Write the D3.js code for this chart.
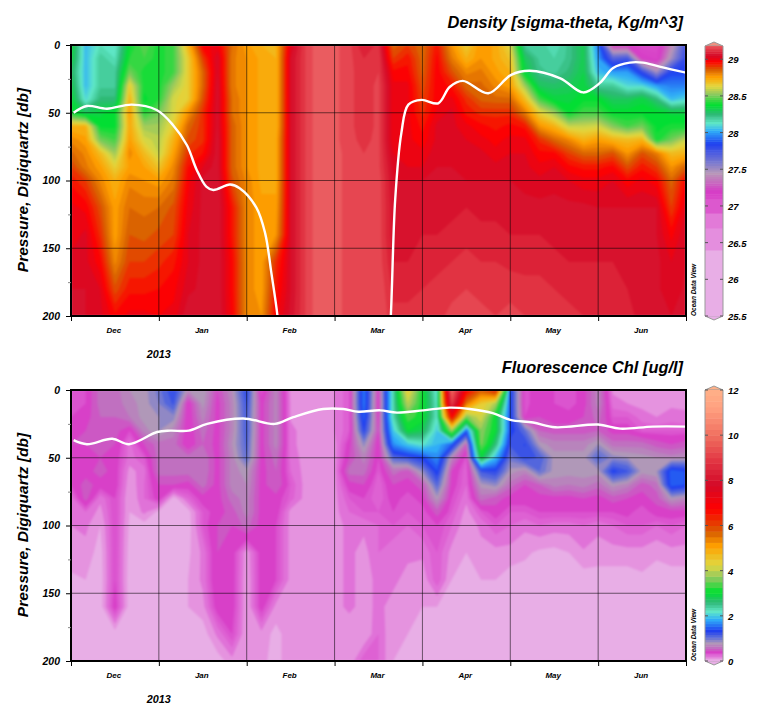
<!doctype html>
<html>
<head>
<meta charset="utf-8">
<script src="https://d3js.org/d3.v7.min.js"></script>
<style>
  body { margin: 0; background: #fff; }
  text { font-family: "Liberation Sans", Arial, sans-serif; font-weight: bold; font-style: italic; fill: #000; }
</style>
</head>
<body>
<svg id="chart" width="762" height="704"></svg>
<script>
// section data. one row per cast, one value per pressure level
var monthNames = ["Dec", "Jan", "Feb", "Mar", "Apr", "May", "Jun"];
var pressures = [0, 10, 20, 30, 40, 50, 60, 70, 80, 90, 100, 120, 140, 160, 180, 200];
var pressureTicks = [0, 50, 100, 150, 200];
var pressureMinor = [25, 75, 125, 175];

var density = [
  [28.38,28.36,28.30,28.34,28.38,28.40,28.72,28.80,28.85,28.90,28.95,29.00,29.00,29.03,29.05,29.05],
  [28.05,28.05,28.05,28.05,28.10,28.30,28.72,28.76,28.80,28.82,28.90,28.98,29.03,29.03,29.05,29.05],
  [28.15,28.20,28.20,28.20,28.25,28.35,28.38,28.50,28.70,28.76,28.80,28.88,28.92,28.97,29.02,29.03],
  [28.12,28.15,28.20,28.20,28.25,28.38,28.38,28.45,28.55,28.65,28.72,28.76,28.76,28.80,28.88,28.97],
  [28.38,28.42,28.50,28.66,28.72,28.76,28.74,28.76,28.80,28.76,28.80,28.84,28.87,28.90,28.95,29.00],
  [28.48,28.45,28.40,28.40,28.38,28.42,28.55,28.62,28.70,28.75,28.78,28.83,28.86,28.90,28.95,29.00],
  [28.40,28.40,28.40,28.40,28.42,28.50,28.55,28.58,28.60,28.68,28.76,28.84,28.88,28.92,28.96,28.99],
  [28.45,28.45,28.45,28.55,28.62,28.62,28.66,28.72,28.76,28.80,28.82,28.88,28.90,28.95,28.98,29.00],
  [28.72,28.66,28.66,28.66,28.66,28.78,28.85,28.88,28.92,28.96,28.98,29.00,29.02,29.02,29.04,29.08],
  [28.98,28.90,28.85,28.85,28.88,28.92,28.92,28.92,28.96,29.02,29.06,29.06,29.06,29.06,29.06,29.08],
  [29.00,29.05,29.05,29.06,29.06,29.06,29.06,29.07,29.07,29.07,29.08,29.08,29.08,29.08,29.08,29.08],
  [28.84,28.82,28.82,28.82,28.84,28.84,28.86,28.86,28.86,28.86,28.88,28.95,28.95,28.97,28.97,28.98],
  [28.76,28.78,28.78,28.78,28.78,28.78,28.78,28.78,28.78,28.78,28.80,28.80,28.80,28.80,28.80,28.80],
  [28.72,28.74,28.74,28.74,28.74,28.74,28.74,28.74,28.74,28.74,28.74,28.76,28.76,28.76,28.76,28.78],
  [28.72,28.72,28.72,28.72,28.72,28.72,28.72,28.74,28.74,28.74,28.74,28.76,28.78,28.92,28.95,28.98],
  [29.02,29.05,29.05,29.05,29.05,29.05,29.05,29.05,29.05,29.05,29.05,29.05,29.05,29.05,29.05,29.06],
  [29.14,29.14,29.14,29.14,29.14,29.14,29.14,29.14,29.14,29.14,29.14,29.14,29.14,29.14,29.14,29.14],
  [29.20,29.20,29.20,29.20,29.20,29.20,29.20,29.20,29.20,29.20,29.20,29.20,29.20,29.20,29.20,29.20],
  [29.18,29.18,29.18,29.18,29.18,29.18,29.18,29.18,29.18,29.18,29.18,29.18,29.18,29.18,29.18,29.18],
  [29.15,29.15,29.15,29.15,29.15,29.15,29.15,29.15,29.16,29.16,29.16,29.16,29.16,29.16,29.16,29.16],
  [29.08,29.11,29.12,29.12,29.12,29.12,29.12,29.13,29.14,29.15,29.16,29.16,29.16,29.16,29.16,29.16],
  [29.12,29.14,29.14,29.15,29.15,29.15,29.15,29.15,29.15,29.15,29.16,29.16,29.16,29.16,29.17,29.17],
  [28.85,28.90,28.97,29.00,29.00,29.00,29.00,29.00,29.02,29.04,29.05,29.06,29.06,29.08,29.10,29.12],
  [28.90,28.95,28.97,29.00,29.00,29.00,29.00,29.00,29.00,29.02,29.05,29.06,29.07,29.08,29.10,29.12],
  [28.84,28.85,28.86,28.88,28.90,28.92,28.95,28.97,29.00,29.02,29.05,29.07,29.08,29.10,29.11,29.12],
  [28.95,28.97,28.98,28.98,28.98,29.00,29.03,29.03,29.04,29.05,29.05,29.07,29.08,29.10,29.12,29.13],
  [28.78,28.82,28.88,28.95,29.00,29.03,29.03,29.04,29.04,29.05,29.05,29.07,29.09,29.11,29.13,29.15],
  [28.66,28.72,28.80,28.85,28.92,28.95,29.00,29.02,29.03,29.04,29.05,29.08,29.10,29.12,29.14,29.15],
  [28.78,28.78,28.82,28.85,28.86,28.92,28.97,29.00,29.03,29.04,29.05,29.07,29.09,29.11,29.13,29.15],
  [28.74,28.74,28.76,28.80,28.85,28.92,28.95,28.98,29.00,29.03,29.05,29.07,29.09,29.11,29.13,29.14],
  [28.62,28.68,28.72,28.76,28.85,28.92,28.97,29.00,29.02,29.03,29.05,29.07,29.08,29.10,29.13,29.15],
  [28.20,28.30,28.35,28.55,28.70,28.82,28.95,29.00,29.02,29.03,29.04,29.06,29.08,29.10,29.12,29.14],
  [28.20,28.20,28.22,28.30,28.45,28.65,28.78,28.92,28.97,29.00,29.03,29.06,29.08,29.10,29.12,29.13],
  [28.15,28.18,28.20,28.28,28.35,28.55,28.72,28.85,28.97,29.02,29.04,29.06,29.07,29.09,29.11,29.12],
  [28.22,28.22,28.25,28.30,28.35,28.38,28.60,28.80,28.90,28.97,29.02,29.06,29.07,29.08,29.10,29.12],
  [28.32,28.32,28.33,28.35,28.38,28.45,28.60,28.72,28.85,28.95,29.00,29.06,29.07,29.08,29.10,29.11],
  [27.95,28.00,28.05,28.20,28.38,28.45,28.62,28.76,28.85,28.95,29.00,29.05,29.06,29.08,29.09,29.10],
  [27.20,27.70,28.00,28.20,28.30,28.38,28.52,28.72,28.88,28.97,29.02,29.05,29.06,29.08,29.09,29.10],
  [27.20,27.75,28.00,28.10,28.30,28.38,28.45,28.70,28.78,28.88,28.97,29.05,29.06,29.07,29.08,29.09],
  [27.10,27.20,27.80,28.10,28.35,28.38,28.50,28.72,28.88,28.95,29.00,29.05,29.05,29.06,29.07,29.07],
  [27.10,27.15,27.50,28.00,28.25,28.38,28.38,28.40,28.82,28.90,28.97,29.05,29.05,29.06,29.06,29.07],
  [27.40,27.50,27.85,27.95,28.05,28.35,28.40,28.50,28.70,28.78,28.85,28.90,28.98,29.02,29.02,29.05],
  [27.75,27.80,27.85,27.95,28.10,28.35,28.40,28.60,28.72,28.86,28.97,29.02,29.05,29.05,29.06,29.08]
];

var chl = [
  [.30,.30,.35,.40,.45,.40,.40,.35,.20,.20,.18,.15,.08,.05,.05,.05],
  [.35,.35,.40,.45,.45,.40,.40,.50,.50,.25,.20,.15,.10,.05,.05,.05],
  [.60,.60,.55,.50,.50,.45,.50,.40,.20,.15,.10,.06,.05,.05,.05,.05],
  [.60,.60,.55,.50,.45,.40,.40,.40,.35,.35,.35,.35,.35,.40,.05,.05],
  [.75,.70,.65,.35,.22,.22,.15,.12,.10,.10,.08,.06,.05,.05,.05,.05],
  [.80,.80,.80,.70,.45,.30,.22,.25,.25,.20,.06,.05,.05,.05,.05,.05],
  [1.0,.95,.85,.85,.60,.60,.60,.45,.40,.07,.05,.05,.05,.05,.05,.05],
  [1.3,1.2,.90,.70,.60,.60,.60,.45,.05,.05,.05,.05,.05,.05,.05,.05],
  [.75,.35,.35,.35,.35,.60,.60,.40,.25,.06,.05,.08,.10,.10,.05,.05],
  [.85,.80,.70,.60,.55,.65,.65,.60,.40,.30,.30,.20,.20,.15,.05,.05],
  [.45,.40,.40,.40,.40,.40,.40,.40,.40,.40,.45,.45,.45,.40,.20,.05],
  [.75,.70,.70,.70,.75,.70,.70,.70,.60,.50,.45,.40,.40,.40,.35,.15],
  [1.3,1.2,1.15,1.15,1.1,1.05,.80,.75,.70,.70,.60,.12,.10,.10,.10,.15],
  [.30,.40,.40,.40,.40,.40,.40,.40,.40,.40,.40,.40,.40,.40,.15,.12],
  [.70,.70,.70,.70,.70,.60,.55,.55,.40,.40,.35,.35,.35,.15,.07,.07],
  [.15,.17,.17,.20,.20,.22,.25,.30,.28,.15,.15,.15,.15,.15,.15,.15],
  [.15,.15,.15,.15,.15,.15,.15,.15,.15,.15,.15,.15,.15,.15,.15,.15],
  [.17,.15,.15,.15,.15,.15,.15,.15,.15,.15,.15,.15,.15,.15,.15,.15],
  [.18,.18,.18,.18,.15,.15,.15,.15,.15,.15,.15,.15,.15,.15,.15,.15],
  [.30,.30,.30,.30,.40,.45,.60,.40,.30,.25,.20,.20,.20,.20,.12,.12],
  [1.6,1.6,1.5,1.3,.90,.70,.60,.45,.35,.30,.20,.15,.15,.15,.10,.30],
  [.40,.35,.40,.45,.35,.35,.30,.25,.25,.30,.25,.25,.20,.20,.25,.25],
  [2.3,2.3,2.3,2.0,1.7,1.1,.60,.45,.40,.35,.30,.20,.20,.15,.10,.10],
  [4.5,4.0,3.4,3.0,2.0,1.2,.50,.40,.30,.30,.25,.20,.15,.15,.10,.07],
  [3.1,3.1,3.1,2.8,2.2,1.35,.90,.50,.40,.30,.30,.20,.12,.10,.05,.05],
  [2.1,2.2,2.2,2.0,1.9,1.7,1.4,1.1,.80,.50,.35,.30,.30,.10,.05,.05],
  [10,9.0,6.8,3.8,1.5,.70,.45,.40,.35,.30,.25,.15,.10,.08,.05,.05],
  [6.8,5.5,3.6,1.5,.55,.30,.25,.25,.20,.15,.12,.10,.08,.05,.05,.05],
  [5.8,4.5,4.2,3.7,3.6,2.9,1.2,.80,.60,.30,.20,.15,.10,.05,.05,.05],
  [6.5,3.9,3.0,3.0,2.6,1.9,1.3,.90,.50,.40,.30,.15,.10,.05,.05,.05],
  [1.4,1.4,1.4,1.4,1.2,1.0,.80,.60,.40,.30,.25,.15,.05,.05,.05,.05],
  [.30,.30,.35,1.05,1.3,1.25,.70,.45,.40,.30,.20,.12,.05,.05,.05,.05],
  [.45,.45,.45,.55,.80,1.15,1.05,.55,.40,.35,.25,.08,.05,.05,.05,.05],
  [.35,.35,.40,.50,.70,.80,.80,.70,.40,.35,.22,.07,.05,.05,.05,.05],
  [.30,.30,.40,.50,.70,.80,.80,.65,.40,.35,.22,.10,.05,.05,.05,.05],
  [.40,.40,.45,.50,.70,.80,.80,.70,.45,.35,.25,.17,.05,.05,.05,.05],
  [.70,.70,.60,.55,.85,1.1,.80,.60,.40,.35,.20,.15,.05,.05,.05,.05],
  [.16,.22,.30,.40,.60,.90,1.35,.80,.50,.35,.25,.15,.05,.05,.05,.05],
  [.15,.18,.30,.40,.60,.85,1.2,.70,.45,.38,.30,.15,.05,.05,.05,.05],
  [.15,.15,.22,.30,.60,.80,.80,.50,.40,.30,.30,.15,.08,.05,.05,.05],
  [.15,.15,.18,.30,.50,.75,.85,.60,.50,.40,.25,.12,.05,.05,.05,.05],
  [.16,.16,.22,.30,.45,.70,1.5,1.5,.80,.40,.30,.15,.05,.05,.05,.05],
  [.16,.16,.20,.30,.50,.75,1.4,1.4,.70,.40,.25,.15,.05,.05,.05,.05]
];

// white mixed layer lines, time in months from the left edge. 240 = off the bottom
var mldDensityTime = [.03,.18,.41,.69,.975,1.16,1.32,1.43,1.54,1.62,1.81,1.92,2.11,2.21,2.28,2.35,2.4,3.6,3.64,3.69,3.76,3.84,3.99,4.18,4.31,4.46,4.75,5.01,5.22,5.57,5.83,6.02,6.17,6.36,6.51,6.7,7];
var mldDensityDepth = [50,45,47,44,48,59,74,92,104.5,107,103,105.7,120,139,168,200,240,240,200,114,65,44,40.5,43,31,26.5,35.6,22,19,24.6,35,28,17,13,13,16,20.4];
var mldChlTime = [.03,.18,.47,.66,.98,1.13,1.34,1.55,1.96,2.32,2.53,2.87,3.1,3.27,3.52,3.71,4.01,4.31,4.54,4.8,5.0,5.26,5.51,6.0,6.25,6.62,7];
var mldChlDepth = [37,40,36,40,31,30,30,25,21,25,20,14,14,16,15,16.7,15,13,14,17,22,24,27.5,25.5,28.5,27,27];

// colour bars
var densityStops = [25.5,26.4,26.5,26.7,26.9,27.2,27.45,27.6,27.85,28.03,28.13,28.25,28.38,28.53,28.63,28.76,28.86,28.97,29.05,29.12,29.17,29.25];
var densityColors = ["#e8aee6","#e8aee6","#e48ede","#e48ede","#df66d2","#d63cc6","#b898b8","#7878d0","#2040f0","#30b0f8","#60e8c8","#30b878","#00e030","#90c860","#e0d840","#ffa000","#d86000","#ff0000","#d40a28","#e03040","#e85058","#f09080"];
var chlStops = [0,.08,.15,.22,.4,.6,.8,1.05,1.35,1.85,2.2,2.6,3.05,3.7,4.25,5.1,5.7,6.75,7.8,8.75,10,11.2,12];
var chlColors = ["#e8aee6","#e8aee6","#e48ede","#e070d8","#d840c8","#c070c0","#b098b8","#6070d8","#2040f0","#30b0f8","#60e8c8","#30b878","#00e030","#90c860","#e0d840","#ffa000","#d86000","#ff0000","#d40a28","#e03040","#f07060","#ffa080","#ffb088"];
var densityLevels = [25.5,26.4,26.7,26.9].concat(d3.range(27.1,29.3,0.03));
var chlLevels = [0,.1,.18,.25,.3,.35,.45,.55,.65,.75,.85,.95].concat(d3.range(1.05,3,0.12)).concat(d3.range(3,12,0.25));
var densityTicks = [25.5,26,26.5,27,27.5,28,28.5,29];
var chlTicks = [0,2,4,6,8,10,12];

var svg = d3.select("#chart");
var left = 71, right = 686, plotH = 271;
var x = d3.scaleLinear().domain([0, monthNames.length]).range([left, right]);

function drawPanel(top, values, levels, stops, colors, lineTime, lineDepth, title, id) {
  var y = d3.scaleLinear().domain([0, 200]).range([top, top + plotH]);
  var color = d3.scaleLinear().domain(stops).range(colors).clamp(true);
  var g = svg.append("g");

  svg.append("clipPath").attr("id", id).append("rect")
    .attr("x", left).attr("y", top).attr("width", right - left).attr("height", plotH);

  // casts are 1/6 month apart
  var n = values.length, m = pressures.length;
  var flat = [];
  for (var j = 0; j < m; j++) for (var i = 0; i < n; i++) flat.push(values[i][j]);
  var px = d3.scaleLinear().domain([0, n - 1]).range([x(0), x(7)]).clamp(true);
  var py = d3.scaleLinear().domain(d3.range(m)).range(pressures.map(y)).clamp(true);
  var path = d3.geoPath(d3.geoTransform({
    point: function(u, v) { this.stream.point(px(u - 0.5), py(v - 0.5)); }
  }));
  var contours = d3.contours().size([n, m]).thresholds(levels)(flat);

  var field = g.append("g").attr("clip-path", "url(#" + id + ")");
  field.append("rect").attr("x", left).attr("y", top).attr("width", right - left).attr("height", plotH)
    .attr("fill", color(levels[0]));
  field.append("g").style("filter", "blur(0.8px)").selectAll("path")
    .data(contours).enter().append("path")
    .attr("d", path)
    .attr("fill", function(d, i) {
      var next = i < levels.length - 1 ? levels[i + 1] : d.value;
      return color((d.value + next) / 2);
    });

  // grid
  g.append("g").selectAll("line").data(pressureTicks.slice(1, 4)).enter().append("line")
    .attr("x1", left).attr("x2", right)
    .attr("y1", function(d) { return y(d); }).attr("y2", function(d) { return y(d); })
    .attr("stroke", "#000").attr("stroke-opacity", 0.55);
  g.append("g").selectAll("line").data(d3.range(1, 7)).enter().append("line")
    .attr("y1", top).attr("y2", top + plotH)
    .attr("x1", function(d) { return x(d); }).attr("x2", function(d) { return x(d); })
    .attr("stroke", "#000").attr("stroke-opacity", 0.55);

  // mixed layer depth
  var line = d3.line()
    .x(function(d, i) { return x(lineTime[i]); })
    .y(function(d) { return y(d); })
    .curve(d3.curveCatmullRom.alpha(0.5));
  g.append("path").attr("clip-path", "url(#" + id + ")")
    .attr("d", line(lineDepth))
    .attr("fill", "none").attr("stroke", "#fff").attr("stroke-width", 2.4);

  g.append("rect").attr("x", left).attr("y", top).attr("width", right - left).attr("height", plotH)
    .attr("fill", "none").attr("stroke", "#000").attr("stroke-width", 2);

  // axes
  var yAxis = d3.axisLeft(y).tickValues(pressureTicks).tickSize(5).tickFormat(d3.format("d"));
  var ay = g.append("g").attr("transform", "translate(" + left + ",0)").call(yAxis);
  ay.select(".domain").remove();
  ay.selectAll("text").attr("x", -11).style("font-size", "10.5px");
  g.append("g").attr("transform", "translate(" + left + ",0)").call(d3.axisLeft(y).tickValues(pressureMinor).tickSize(3).tickFormat(""))
    .call(function(s) { s.select(".domain").remove(); s.selectAll("line").attr("stroke", "#888"); });

  var ax = g.append("g").attr("transform", "translate(0," + (top + plotH) + ")")
    .call(d3.axisBottom(x).tickValues(d3.range(0, 8)).tickSize(5).tickFormat(""));
  ax.select(".domain").remove();

  g.selectAll(".month").data(monthNames).enter().append("text")
    .attr("class", "month")
    .attr("x", function(d, i) { return x(i + 0.5) - 1; })
    .attr("y", top + plotH + 17)
    .attr("text-anchor", "middle").style("font-size", "8px")
    .text(function(d) { return d; });

  g.append("text").attr("x", x(1)).attr("y", top + plotH + 42)
    .attr("text-anchor", "middle").style("font-size", "10.8px").text("2013");

  g.append("text").attr("x", 683).attr("y", top - 17)
    .attr("text-anchor", "end").style("font-size", "16.4px").text(title);

  g.append("text")
    .attr("transform", "translate(28," + (top + 135) + ") rotate(-90)")
    .attr("text-anchor", "middle").style("font-size", "15.5px")
    .text("Pressure, Digiquartz [db]");

  g.append("text")
    .attr("transform", "translate(696," + (top + plotH) + ") rotate(-90)")
    .style("font-size", "6.5px").text("Ocean Data View");
}

function drawLegend(barTop, barBottom, domainLow, domainHigh, stops, colors, levels, ticks, tickFormat) {
  var y = d3.scaleLinear().domain([domainLow, domainHigh]).range([barBottom, barTop]);
  var color = d3.scaleLinear().domain(stops).range(colors).clamp(true);
  var bx0 = 705, bx1 = 723, mid = (bx0 + bx1) / 2;
  var g = svg.append("g");
  var bands = levels.filter(function(d) { return d < domainHigh; });

  g.append("polygon")
    .attr("points", [[bx0, barBottom], [mid, barBottom + 4], [bx1, barBottom]].join(" "))
    .attr("fill", color(domainLow)).attr("stroke", "#999");
  g.append("polygon")
    .attr("points", [[bx0, barTop], [mid, barTop - 4], [bx1, barTop]].join(" "))
    .attr("fill", color(domainHigh + 0.07)).attr("stroke", "#999");

  g.selectAll("rect").data(bands).enter().append("rect")
    .attr("x", bx0).attr("width", bx1 - bx0)
    .attr("y", function(d, i) {
      var next = i < bands.length - 1 ? bands[i + 1] : domainHigh;
      return y(next);
    })
    .attr("height", function(d, i) {
      var next = i < bands.length - 1 ? bands[i + 1] : domainHigh;
      return y(d) - y(next) + 0.5;
    })
    .attr("fill", function(d, i) {
      var next = i < bands.length - 1 ? bands[i + 1] : domainHigh;
      return color((d + next) / 2);
    });

  g.append("path")
    .attr("d", "M" + bx0 + "," + barBottom + "V" + barTop + "M" + bx1 + "," + barBottom + "V" + barTop)
    .attr("stroke", "#999").attr("fill", "none");

  ticks.forEach(function(t) {
    g.append("path")
      .attr("d", "M" + (bx0) + "," + y(t) + "h3M" + (bx1 - 3) + "," + y(t) + "h3")
      .attr("stroke", "#555");
    g.append("text").attr("x", 728).attr("y", y(t) + 4)
      .style("font-size", "9.5px").text(tickFormat(t));
  });
}

drawPanel(45, density, densityLevels, densityStops, densityColors, mldDensityTime, mldDensityDepth, "Density [sigma-theta, Kg/m^3]", "clipA");
drawPanel(390, chl, chlLevels, chlStops, chlColors, mldChlTime, mldChlDepth, "Fluorescence Chl [ug/l]", "clipB");
drawLegend(46, 316, 25.5, 29.18, densityStops, densityColors, densityLevels, densityTicks, function(d) { return d; });
drawLegend(390, 661, 0, 12, chlStops, chlColors, chlLevels, chlTicks, function(d) { return d; });
</script>
</body>
</html>
